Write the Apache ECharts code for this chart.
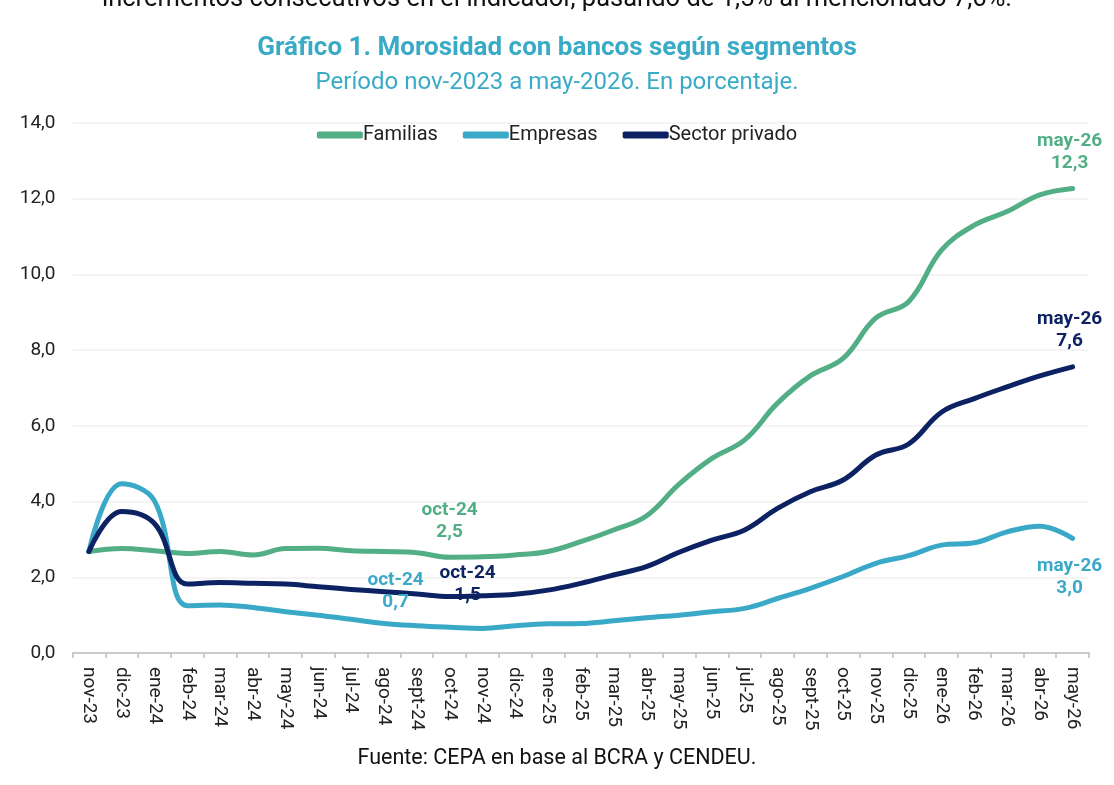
<!DOCTYPE html>
<html>
<head>
<meta charset="utf-8">
<script src="https://cdn.jsdelivr.net/npm/echarts@6/dist/echarts.min.js"></script>
<style>
html,body{margin:0;padding:0;background:#fff;}
#c{width:1114px;height:785px;}
</style>
</head>
<body>
<div id="c"></div>
<script>
const categories = ['nov-23','dic-23','ene-24','feb-24','mar-24','abr-24','may-24','jun-24','jul-24','ago-24','sept-24','oct-24','nov-24','dic-24','ene-25','feb-25','mar-25','abr-25','may-25','jun-25','jul-25','ago-25','sept-25','oct-25','nov-25','dic-25','ene-26','feb-26','mar-26','abr-26','may-26'];
const familias = [2.68,2.76,2.70,2.63,2.68,2.59,2.76,2.77,2.70,2.68,2.65,2.53,2.54,2.59,2.68,2.94,3.25,3.62,4.46,5.14,5.63,6.60,7.32,7.78,8.85,9.28,10.64,11.30,11.66,12.10,12.27];
const empresas = [2.68,4.47,4.02,1.25,1.27,1.20,1.09,1.00,0.89,0.78,0.72,0.68,0.65,0.72,0.77,0.78,0.85,0.93,1.00,1.09,1.18,1.44,1.71,2.02,2.37,2.57,2.85,2.91,3.20,3.35,3.03];
const sector = [2.68,3.74,3.42,1.82,1.86,1.84,1.82,1.75,1.68,1.62,1.56,1.49,1.51,1.55,1.66,1.84,2.06,2.28,2.66,2.98,3.25,3.82,4.26,4.57,5.23,5.52,6.36,6.72,7.03,7.32,7.56];
const yTicks = [0,2,4,6,8,10,12,14];

const C_FAM = '#52ae84', C_EMP = '#3aa9c8', C_SEC = '#0c2262';
const fmt = v => v.toFixed(1).replace('.', ',');

function withLabels(values, color, specs) {
  return values.map((v, i) => {
    const s = specs[categories[i]];
    if (!s) return v;
    return {
      value: v,
      label: Object.assign({
        show: true,
        color: color,
        fontFamily: 'Roboto',
        fontWeight: 'bold',
        fontSize: 19,
        lineHeight: 22,
        align: 'center',
        formatter: p => p.name + '\n' + fmt(p.value)
      }, s)
    };
  });
}

const chart = echarts.init(document.getElementById('c'), null, {renderer: 'canvas'});
const lineCommon = {
  type: 'line',
  smooth: 0.4,
  showSymbol: true,
  symbol: 'circle',
  symbolSize: 0.01,
  emphasis: {disabled: true},
  lineStyle: {width: 5, cap: 'round', join: 'round'},
  z: 2
};
chart.setOption({
  animation: false,
  backgroundColor: '#fff',
  textStyle: {fontFamily: 'Roboto'},
  graphic: [
    {type: 'text', left: 'center', top: -13, style: {text: 'incrementos consecutivos en el indicador, pasando de 1,5% al mencionado 7,6%.', font: '25.5px Roboto', fill: '#111'}},
    {type: 'text', left: 'center', top: 748, style: {text: 'Fuente: CEPA en base al BCRA y CENDEU.', font: '21.5px Roboto', fill: '#111'}}
  ],
  title: {
    text: 'Gráfico 1. Morosidad con bancos según segmentos',
    subtext: 'Período nov-2023 a may-2026. En porcentaje.',
    left: 'center',
    top: 30,
    itemGap: 10,
    textStyle: {fontFamily: 'Roboto', fontWeight: 'bold', fontSize: 26, color: '#3aabc6'},
    subtextStyle: {fontFamily: 'Roboto', fontSize: 24, color: '#3aabc6'}
  },
  legend: {
    top: 120,
    left: 'center',
    icon: 'roundRect',
    itemWidth: 46,
    itemHeight: 7,
    itemGap: 25,
    textStyle: {fontFamily: 'Roboto', fontSize: 20, color: '#222', padding: [0, 0, 0, -5]},
    data: ['Familias', 'Empresas', 'Sector privado']
  },
  grid: {left: 72.5, right: 25, top: 123, bottom: 132, containLabel: false},
  xAxis: {
    type: 'category',
    data: categories,
    boundaryGap: true,
    axisLine: {lineStyle: {color: '#bfbfbf', width: 1.5}},
    axisTick: {show: true, length: 5, lineStyle: {color: '#bfbfbf', width: 1.5}},
    axisLabel: {rotate: -90, interval: 0, fontFamily: 'Roboto', fontSize: 19, color: '#222', margin: 14}
  },
  yAxis: {
    type: 'value',
    min: yTicks[0],
    max: yTicks[yTicks.length - 1],
    interval: 2,
    axisLine: {show: false},
    axisTick: {show: false},
    splitLine: {lineStyle: {color: '#f0f0f0', width: 1.5}},
    axisLabel: {fontFamily: 'Roboto', fontSize: 19, color: '#222', margin: 17, formatter: v => fmt(v)}
  },
  series: [
    Object.assign({}, lineCommon, {
      name: 'Familias', color: C_FAM,
      data: withLabels(familias, C_FAM, {
        'oct-24': {position: 'top', distance: 14, offset: [0, 0]},
        'may-26': {position: 'top', distance: 14, offset: [-3, 0]}
      })
    }),
    Object.assign({}, lineCommon, {
      name: 'Empresas', color: C_EMP,
      data: withLabels(empresas, C_EMP, {
        'oct-24': {position: 'top', distance: 14, offset: [-54, 0]},
        'may-26': {position: 'bottom', distance: 17, offset: [-3, 0]}
      })
    }),
    Object.assign({}, lineCommon, {
      name: 'Sector privado', color: C_SEC,
      data: withLabels(sector, C_SEC, {
        'oct-24': {position: 'top', distance: 5, offset: [18, 15]},
        'may-26': {position: 'top', distance: 15, offset: [-3, 0]}
      })
    })
  ]
});
</script>
</body>
</html>
